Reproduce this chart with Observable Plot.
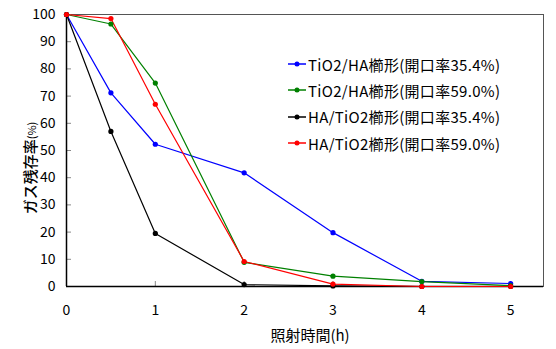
<!DOCTYPE html>
<html><head><meta charset="utf-8">
<script src="https://cdn.jsdelivr.net/npm/d3@7"></script>
<script src="https://cdn.jsdelivr.net/npm/@observablehq/plot@0.6"></script>
<style>
body{margin:0;background:#fff;}
#wrap{position:relative;width:556px;height:349px;font-family:"Noto Sans CJK JP",sans-serif;}
#legend{position:absolute;left:288px;top:51px;font-size:15px;letter-spacing:0.3px;color:#000;}
#legend div{height:26.3px;display:flex;align-items:center;}
#legend svg{margin-right:2px;}
#ylab{position:absolute;left:29px;top:168px;transform:translate(-50%,-50%) rotate(-90deg);white-space:nowrap;font-size:15px;font-weight:500;color:#000;line-height:1;}
#ylab small{font-size:11px;font-weight:400;}
</style></head>
<body><div id="wrap"><div id="legend"></div><div id="ylab"></div></div>
<script>
const times = [0, 0.5, 1, 2, 3, 4, 5];
const seriesNames = ["TiO2/HA櫛形(開口率35.4%)", "TiO2/HA櫛形(開口率59.0%)", "HA/TiO2櫛形(開口率35.4%)", "HA/TiO2櫛形(開口率59.0%)"];
const seriesColors = ["#0000ff", "#008000", "#000000", "#ff0000"];
const blueValues  = [100, 71.2, 52.3, 41.8, 19.8, 1.9, 1.1];
const greenValues = [100, 96.5, 74.8, 8.9, 3.8, 1.8, 0.3];
const blackValues = [100, 57.0, 19.5, 0.7, 0.2, 0, 0];
const redValues   = [100, 98.5, 67.0, 9.2, 0.9, 0, 0];
const xTicks = [0, 1, 2, 3, 4, 5];
const yTicks = [0, 10, 20, 30, 40, 50, 60, 70, 80, 90, 100];
const xLabel = "照射時間(h)";
const yLabelMain = "ガス残存率";
const yLabelUnit = "(%)";

const allValues = [blueValues, greenValues, blackValues, redValues];
const data = [];
allValues.forEach((vals, i) => vals.forEach((v, j) => data.push({t: times[j], v, s: seriesNames[i]})));

const font = "Noto Sans CJK JP";
const chart = Plot.plot({
  width: 556, height: 349,
  marginLeft: 66, marginRight: 13, marginTop: 14, marginBottom: 63,
  style: {fontFamily: font, fontSize: "14px", color: "#000", background: "#fff"},
  x: {domain: [0, 5.37], ticks: xTicks},
  y: {domain: [0, 100], ticks: yTicks},
  color: {domain: seriesNames, range: seriesColors},
  marks: [
    Plot.frame({stroke: "#555", strokeWidth: 1}),
    Plot.axisX({ticks: xTicks, tickFormat: d => String(d), tickSize: -5, tickPadding: 24, stroke: "#888", fontSize: 14, label: null}),
    Plot.axisY({ticks: yTicks, tickFormat: d => String(d), tickSize: -5, tickPadding: 16, stroke: "#888", fontSize: 14, label: null}),
    Plot.text([xLabel], {frameAnchor: "bottom", dy: 54, dx: 5, fontSize: 15, fill: "#000"}),
    Plot.ruleX([0], {stroke: "#000", strokeWidth: 1.5}),
    Plot.ruleY([0], {stroke: "#000", strokeWidth: 1.5}),
    Plot.line(data, {x: "t", y: "v", z: "s", stroke: "s", strokeWidth: 1.2}),
    Plot.dot(data, {x: "t", y: "v", fill: "s", r: 2.6})
  ]
});
document.getElementById("wrap").prepend(chart);

document.getElementById("ylab").innerHTML = `${yLabelMain}<small>${yLabelUnit}</small>`;
const legend = document.getElementById("legend");
seriesNames.forEach((name, i) => {
  const row = document.createElement("div");
  row.innerHTML = `<svg width="18" height="8"><line x1="0" x2="18" y1="4" y2="4" stroke="${seriesColors[i]}" stroke-width="1.5"/><circle cx="9" cy="4" r="2.5" fill="${seriesColors[i]}"/></svg><span>${name}</span>`;
  legend.appendChild(row);
});
</script></body></html>
